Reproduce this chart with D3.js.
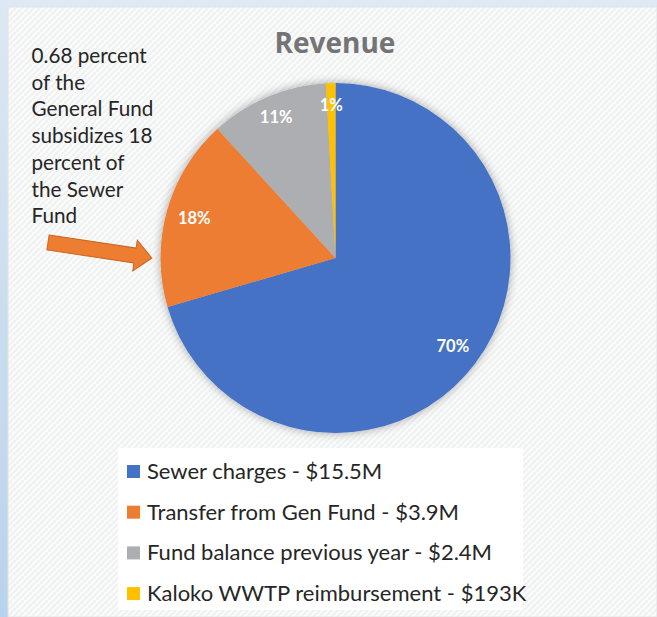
<!DOCTYPE html>
<html>
<head>
<meta charset="utf-8">
<script src="https://cdn.jsdelivr.net/npm/d3@7"></script>
<style>
  html, body { margin: 0; padding: 0; background: #dde9f5; }
  svg { display: block; }
</style>
</head>
<body>
<svg id="chart" width="657" height="617"></svg>
<script>
// ---- data ----
const categories = ["Sewer charges", "Transfer from Gen Fund", "Fund balance previous year", "Kaloko WWTP reimbursement"];
const values = [15.5, 3.9, 2.4, 0.193];           // $ millions
const amountLabels = ["$15.5M", "$3.9M", "$2.4M", "$193K"];
const percentLabels = ["70%", "18%", "11%", "1%"];
const colors = ["#4472c4", "#ed7d31", "#adaeb1", "#ffc000"];
const titleText = "Revenue";
const noteLines = ["0.68 percent", "of the", "General Fund", "subsidizes 18", "percent of", "the Sewer", "Fund"];

const W = 657, H = 617;
const svg = d3.select("#chart");
const defs = svg.append("defs");

// outer frame gradient
const lg = defs.append("linearGradient").attr("id", "leftGrad").attr("x1", 0).attr("y1", 0).attr("x2", 0).attr("y2", 1);
lg.append("stop").attr("offset", "0%").attr("stop-color", "#dce8f4");
lg.append("stop").attr("offset", "100%").attr("stop-color", "#b9d3ec");

// texture pattern
const pat = defs.append("pattern").attr("id", "tex").attr("patternUnits", "userSpaceOnUse")
  .attr("width", 6).attr("height", 6);
pat.append("rect").attr("width", 6).attr("height", 6).attr("fill", "#fbfbfb");
pat.append("path").attr("d", "M0,6 L6,0 M-1,1 L1,-1 M5,7 L7,5").attr("stroke", "#eef0f0").attr("stroke-width", 1.6);

// shadow
const f = defs.append("filter").attr("id", "shadow").attr("x", "-20%").attr("y", "-20%").attr("width", "140%").attr("height", "140%");
f.append("feGaussianBlur").attr("in", "SourceAlpha").attr("stdDeviation", 5).attr("result", "b");
f.append("feComponentTransfer").attr("in", "b").attr("result", "s")
  .append("feFuncA").attr("type", "linear").attr("slope", 0.35);
const fm = f.append("feMerge");
fm.append("feMergeNode").attr("in", "s");
fm.append("feMergeNode").attr("in", "SourceGraphic");

// background
svg.append("rect").attr("width", W).attr("height", H).attr("fill", "#dde9f5");
svg.append("rect").attr("x", 0).attr("y", 0).attr("width", 8).attr("height", H).attr("fill", "url(#leftGrad)");
svg.append("rect").attr("x", 8).attr("y", 7).attr("width", W - 8).attr("height", H - 7)
  .attr("fill", "url(#tex)").attr("stroke", "#e2e4e6").attr("stroke-width", 1);

// title
svg.append("text").attr("x", 335).attr("y", 53).attr("text-anchor", "middle")
  .attr("font-family", "'Open Sans', Lato, sans-serif").attr("font-weight", "bold")
  .attr("font-size", 28).attr("fill", "#747476").text(titleText);

// pie
const cx = 335.5, cy = 258, R = 175;
const pie = d3.pie().sort(null).value(d => d.v);
const data = categories.map((c, i) => ({ c, v: values[i], color: colors[i], pct: percentLabels[i] }));
const arcs = pie(data);
const arc = d3.arc().innerRadius(0).outerRadius(R);
const labelPos = d => {
  const r = R * ((d.endAngle - d.startAngle) < 1 ? 0.875 : 0.838);
  return d3.arc().innerRadius(r).outerRadius(r).centroid(d);
};

const g = svg.append("g").attr("transform", `translate(${cx},${cy})`);
g.append("g").attr("filter", "url(#shadow)")
  .selectAll("path").data(arcs).join("path")
  .attr("d", arc).attr("fill", d => d.data.color);

g.selectAll("text.pl").data(arcs).join("text").attr("class", "pl")
  .attr("transform", d => `translate(${labelPos(d)})`)
  .attr("text-anchor", "middle").attr("dy", "0.35em")
  .attr("font-family", "Lato, 'Open Sans', sans-serif").attr("font-weight", "bold")
  .attr("font-size", 16.5).attr("fill", "#ffffff").text(d => d.data.pct);

// annotation text
svg.append("g").selectAll("text").data(noteLines).join("text")
  .attr("x", 31.5).attr("y", (d, i) => 63 + i * 26.7)
  .attr("font-family", "Lato, 'Open Sans', sans-serif").attr("font-size", 20.7)
  .attr("fill", "#262626").text(d => d);

// arrow (annotation shape in local coords, then rotated)
const aLen = 105, shaftW = 15, headW = 31, headL = 17;
const arrowPts = [[0, -shaftW / 2], [aLen - headL, -shaftW / 2], [aLen - headL, -headW / 2], [aLen, 0],
                  [aLen - headL, headW / 2], [aLen - headL, shaftW / 2], [0, shaftW / 2]];
svg.append("path").attr("transform", "translate(48,242.5) rotate(8.5)")
  .attr("d", d3.line()(arrowPts) + "Z")
  .attr("fill", "#ed7d31").attr("stroke", "#c9661f").attr("stroke-width", 1);

// legend
const lgX = 118, lgY = 448;
svg.append("rect").attr("x", lgX).attr("y", lgY).attr("width", 405).attr("height", 162).attr("fill", "#ffffff");
const leg = svg.append("g").selectAll("g").data(data).join("g")
  .attr("transform", (d, i) => `translate(127,${465 + i * 40.7})`);
leg.append("rect").attr("width", 13).attr("height", 13).attr("fill", d => d.color);
leg.append("text").attr("x", 20).attr("y", 14)
  .attr("font-family", "Lato, 'Open Sans', sans-serif").attr("font-size", 22)
  .attr("fill", "#262626").text((d, i) => `${d.c} - ${amountLabels[i]}`);
</script>
</body>
</html>
